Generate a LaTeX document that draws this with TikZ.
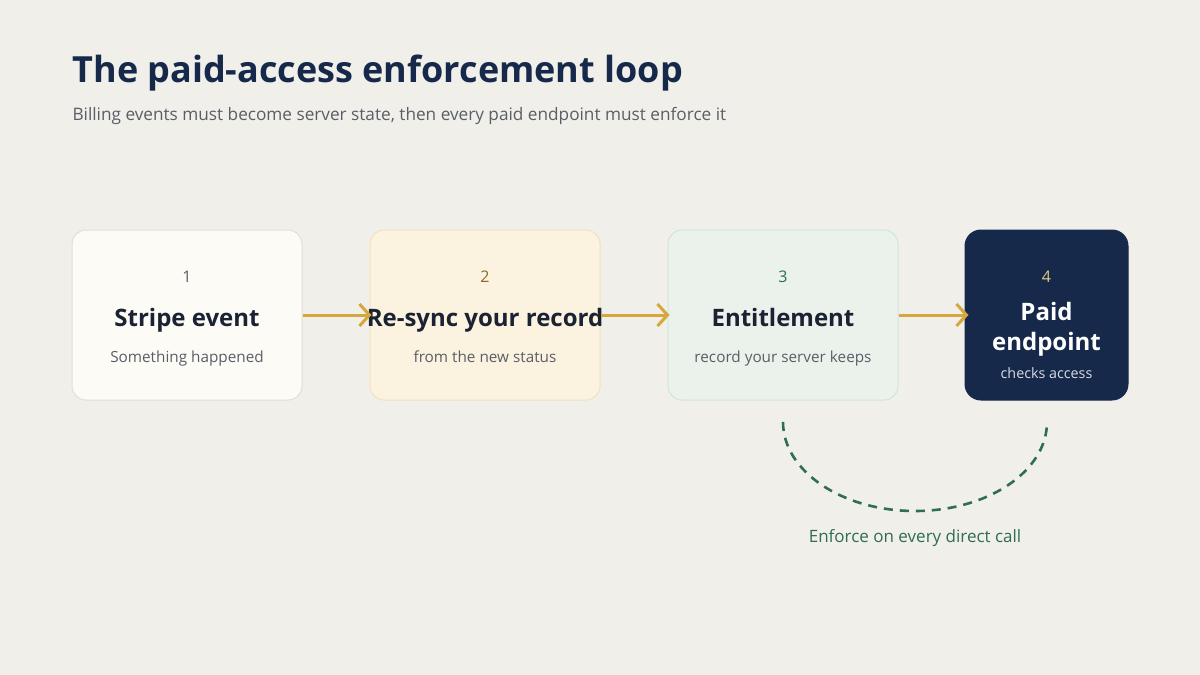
\documentclass[tikz,border=0pt]{standalone}
\usepackage{fontspec}
\setmainfont{Open Sans}
\usetikzlibrary{arrows.meta}
\definecolor{bg}{HTML}{F1EFEA}
\definecolor{navy}{HTML}{16294A}
\definecolor{ink}{HTML}{1A2233}
\definecolor{greyt}{HTML}{5A5E66}
\definecolor{gold}{HTML}{D6A73C}
\definecolor{green}{HTML}{2F6E50}
\definecolor{numb}{HTML}{8A6A2A}
\definecolor{numd}{HTML}{E2C888}
\definecolor{subd}{HTML}{D8DCE4}
\definecolor{fa}{HTML}{FCFBF6}\definecolor{da}{HTML}{E2DFD8}
\definecolor{fb}{HTML}{FBF2DF}\definecolor{db}{HTML}{F1E2BC}
\definecolor{fc}{HTML}{EBF2EC}\definecolor{dc}{HTML}{D0E6D7}
\tikzset{
  card/.style={draw, line width=1pt, rounded corners=14pt, minimum height=170pt, inner sep=0pt},
  flow/.style={draw=gold, line width=3pt, -{Straight Barb[length=10pt,width=22pt,line width=3pt]}},
  num/.style={font=\fontsize{16}{18}\selectfont},
  head/.style={font=\bfseries\fontsize{24}{30}\selectfont, text=ink},
  sub/.style={font=\fontsize{15.3}{18}\selectfont, text=greyt},
}
\begin{document}
\begin{tikzpicture}[x=1pt,y=-1pt]
\fill[bg] (0,0) rectangle (1200,675);
\useasboundingbox (0,0) rectangle (1200,675);
\node[anchor=base west, text=navy, font=\bfseries\fontsize{36}{44}\selectfont] (title) at (69,82) {The paid-access enforcement loop};
\node[anchor=base west, text=greyt, font=\fontsize{17.2}{20}\selectfont] (subtitle) at (69,120) {Billing events must become server state, then every paid endpoint must enforce it};

\node[card, fill=fa, draw=da, minimum width=230pt] (c1) at (187,315) {};
\node[card, fill=fb, draw=db, minimum width=230pt] (c2) at (485,315) {};
\node[card, fill=fc, draw=dc, minimum width=230pt] (c3) at (783,315) {};
\node[card, fill=navy, draw=navy, minimum width=163pt, rounded corners=16pt] (c4) at (1046.5,315) {};

\node[num, text=greyt, anchor=base] (n1) at (187,282) {1};
\node[head, anchor=base] (h1) at (187,326) {Stripe event};
\node[sub, anchor=base] (s1) at (187,362) {Something happened};

\node[num, text=numb, anchor=base] (n2) at (485,282) {2};
\node[head, anchor=base] (h2) at (485,326) {Re-sync your record};
\node[sub, anchor=base] (s2) at (485,362) {from the new status};

\node[num, text=green, anchor=base] (n3) at (783,282) {3};
\node[head, anchor=base] (h3) at (783,326) {Entitlement};
\node[sub, anchor=base] (s3) at (783,362) {record your server keeps};

\node[num, text=numd, anchor=base] (n4) at (1046.5,282) {4};
\node[head, text=white, anchor=base] (h4a) at (1046.5,320) {Paid};
\node[head, text=white, anchor=base] (h4b) at (1046.5,350) {endpoint};
\node[sub, text=subd, font=\fontsize{14.3}{17}\selectfont, anchor=base] (s4) at (1046.5,378) {checks access};

\draw[flow] (c1.east) -- ([xshift=2pt]c2.west);
\draw[flow] (c2.east) -- ([xshift=2pt]c3.west);
\draw[flow] (c3.east) -- ([xshift=4pt]c4.west);

\coordinate (la) at (783,422);
\coordinate (lb) at (1047,420);
\draw[green, line width=2.6pt, dash pattern=on 9pt off 7pt] (la) arc[start angle=180, end angle=360, x radius=132, y radius=-89];
\node[text=green, font=\fontsize{17}{20}\selectfont, anchor=base] (lab) at (915,542) {Enforce on every direct call};
\end{tikzpicture}
\end{document}
